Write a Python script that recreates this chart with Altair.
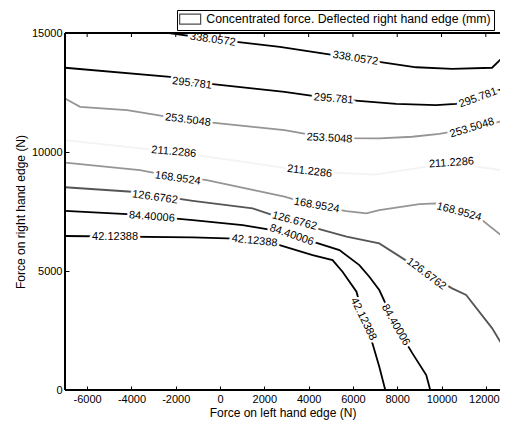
import altair as alt
import pandas as pd

# ---------------- data ----------------
levels = ["42.12388", "84.40006", "126.6762", "168.9524",
          "211.2286", "253.5048", "295.781", "338.0572"]

c42_x = [-7000, -1230, 300, 1560, 2690, 4180, 5080, 5530, 6160, 6470, 6880, 7190, 7460]
c42_y = [6470, 6410, 6370, 6300, 6090, 5670, 5460, 4970, 4130, 3050, 1960, 980, 0]

c84_x = [-7000, -4200, -1230, 1020, 2380, 3230, 4180, 5390, 6290, 6740, 7190, 7920, 8680, 9310, 9490]
c84_y = [7530, 7390, 7140, 6930, 6720, 6510, 6230, 5880, 5250, 4760, 4200, 2730, 1550, 630, 0]

c126_x = [-7000, -3980, -1230, 1470, 2380, 3360, 4360, 5710, 7190, 9310, 10480, 11110, 12280, 12960]
c126_y = [8520, 8330, 7950, 7630, 7350, 7100, 6790, 6440, 6160, 4900, 4270, 3990, 2600, 1550]

c169_x = [-7000, -3620, -1900, -600, 2910, 4360, 5710, 6610, 7190, 9000, 9760, 10790, 11830, 12960]
c169_y = [9550, 9240, 8930, 8820, 8120, 7730, 7520, 7420, 7560, 7810, 7840, 7490, 7140, 6300]

c211_x = [-7000, -2090, 1000, 4040, 7000, 10450, 12960]
c211_y = [10500, 10000, 9600, 9180, 9050, 9540, 9200]

c254_x = [-7000, -6320, -4200, -1450, 2910, 4940, 7190, 8680, 9900, 11380, 12600, 12960]
c254_y = [12250, 11900, 11760, 11340, 10920, 10580, 10570, 10640, 10760, 11000, 11270, 11390]

c296_x = [-7000, -2260, -1270, 2910, 5130, 7950, 9750, 10650, 11650, 12960]
c296_y = [13540, 13160, 12950, 12530, 12230, 12020, 11970, 12020, 12250, 12740]

c338_x = [-7000, -2300, -330, 2700, 6110, 8860, 10480, 12280, 12960]
c338_y = [15000, 15000, 14740, 14420, 13930, 13560, 13490, 13540, 14160]

contour_x = [c42_x, c84_x, c126_x, c169_x, c211_x, c254_x, c296_x, c338_x]
contour_y = [c42_y, c84_y, c126_y, c169_y, c211_y, c254_y, c296_y, c338_y]

# contour labels (level, position in data units, rotation in degrees)
label_level = ["42.12388"] * 3 + ["84.40006"] * 3 + ["126.6762"] * 3 + ["168.9524"] * 3 + \
              ["211.2286"] * 3 + ["253.5048"] * 3 + ["295.781"] * 3 + ["338.0572"] * 2
label_x = [-4740, 1560, 6470,
           -3080, 3230, 7920,
           -2940, 3360, 9310,
           -1910, 4360, 10790,
           -2090, 4040, 10450,
           -1450, 4940, 11380,
           -1270, 5130, 11650,
           -330, 6110]
label_y = [6410, 6260, 2980,
           7270, 6510, 2730,
           8090, 7100, 4870,
           8890, 7750, 7480,
           10000, 9180, 9540,
           11340, 10570, 11010,
           12880, 12230, 12270,
           14720, 13930]
label_angle = [0, 6, 64,
               4, 19, 60,
               8, 15, 37,
               8, 10, 15,
               5, 7, 356,
               7, 3, 343,
               7, 5, 340,
               8, 9]

x_ticks = [-6000, -4000, -2000, 0, 2000, 4000, 6000, 8000, 10000, 12000]
y_ticks = [0, 5000, 10000, 15000]

legend_label = "Concentrated force. Deflected right hand edge (mm)"
x_title = "Force on left hand edge (N)"
y_title = "Force on right hand edge (N)"

# ---------------- tables ----------------
rows = []
for lev, xs, ys in zip(levels, contour_x, contour_y):
    for i, (xv, yv) in enumerate(zip(xs, ys)):
        rows.append({"level": lev, "x": xv, "y": yv, "o": i})
lines_df = pd.DataFrame(rows)

labels_df = pd.DataFrame({"level": label_level, "x": label_x, "y": label_y,
                          "angle": label_angle})
legend_df = pd.DataFrame({"x": [20000], "y": [0], "name": [legend_label]})
ticks_df = pd.DataFrame({"t": x_ticks})

FONT = "Liberation Sans"
# the visible window ends a little before 13000
xscale = alt.Scale(domain=[-7000, 12640], nice=False, zero=False)
yscale = alt.Scale(domain=[0, 15000], nice=False, zero=False)

neg_fix = "datum.value < 0 ? '-' + format(-datum.value, 'd') : format(datum.value, 'd')"
x_axis = alt.Axis(values=x_ticks, title=x_title, orient="bottom", offset=-4,
                  labelPadding=3, titlePadding=3, labelExpr=neg_fix,
                  labelOffset={"condition": {"test": "datum.value == 12000", "value": -2},
                               "value": 0})
y_axis = alt.Axis(values=y_ticks, title=y_title, orient="left", offset=-4,
                  labelPadding=3, titlePadding=4, labelExpr=neg_fix)


def X(field):
    return alt.X(field, scale=xscale, axis=x_axis)


def Y(field):
    return alt.Y(field, scale=yscale, axis=y_axis)


line_colors = ["#000000", "#000000", "#555555", "#959595",
               "#f3f3f3", "#959595", "#000000", "#000000"]
line_widths = [1.8, 1.8, 1.1, 1.0, 1.0, 1.0, 1.8, 1.8]

lines = alt.Chart(lines_df).mark_line(clip=True).encode(
    x=X("x:Q"), y=Y("y:Q"),
    detail="level:N",
    order="o:Q",
    color=alt.Color("level:N", scale=alt.Scale(domain=levels, range=line_colors), legend=None),
    strokeWidth=alt.StrokeWidth("level:N", scale=alt.Scale(domain=levels, range=line_widths),
                                legend=None),
)

halo = alt.Chart(labels_df).mark_text(
    font=FONT, fontSize=11, stroke="white", strokeWidth=5, fill="white",
    align="center", baseline="middle"
).encode(
    x=X("x:Q"), y=Y("y:Q"),
    text="level:N",
    angle=alt.Angle("angle:Q", scale=None),
)

texts = alt.Chart(labels_df).mark_text(
    font=FONT, fontSize=11, color="black", align="center", baseline="middle"
).encode(
    x=X("x:Q"), y=Y("y:Q"),
    text="level:N",
    angle=alt.Angle("angle:Q", scale=None),
)

# inward ticks on the top frame
top_ticks = alt.Chart(ticks_df).mark_rule(color="black", strokeWidth=1).encode(
    x=X("t:Q"), y=alt.value(0), y2=alt.value(4),
)

# frame: left, top and bottom edges (the right edge lies outside the picture)
frame_left = alt.Chart(ticks_df).mark_rule(color="black", strokeWidth=1.2).encode(
    x=alt.value(0), y=alt.value(0), y2=alt.value(357),
)
frame_top = alt.Chart(ticks_df).mark_rule(color="black", strokeWidth=1.2).encode(
    x=alt.value(0), x2=alt.value(435), y=alt.value(0),
)
frame_bottom = alt.Chart(ticks_df).mark_rule(color="black", strokeWidth=1.2).encode(
    x=alt.value(0), x2=alt.value(435), y=alt.value(357),
)

legend_layer = alt.Chart(legend_df).mark_point(clip=True, filled=False).encode(
    x=X("x:Q"), y=Y("y:Q"),
    stroke=alt.Stroke("name:N", scale=alt.Scale(range=["black"]),
                      legend=alt.Legend(
                          orient="none", legendX=112, legendY=-23, title=None,
                          symbolType="M-2.1,-1H2.1V1H-2.1Z", symbolSize=100,
                          symbolOffset=4, symbolStrokeColor="black",
                          symbolStrokeWidth=1.2, symbolFillColor="white",
                          labelFont=FONT, labelFontSize=12.3, labelColor="black",
                          labelOffset=10, labelLimit=0,
                          strokeColor="black", fillColor="white", padding=3)),
)

chart = alt.layer(lines, halo, texts, top_ticks, frame_left, frame_top, frame_bottom,
                  legend_layer).properties(
    width=435, height=357,
    padding={"left": 57, "top": 25, "right": 0, "bottom": 31},
    autosize=alt.AutoSizeParams(type="none"),
    background="white",
).configure_view(
    stroke=None
).configure_axis(
    grid=False, domain=False, tickSize=4, tickColor="black", tickWidth=1,
    labelFont=FONT, labelFontSize=11, labelColor="black",
    titleFont=FONT, titleFontSize=12, titleFontWeight="normal", titleColor="black",
)

chart.save("out.html", embed_options={"renderer": "svg", "actions": False})
